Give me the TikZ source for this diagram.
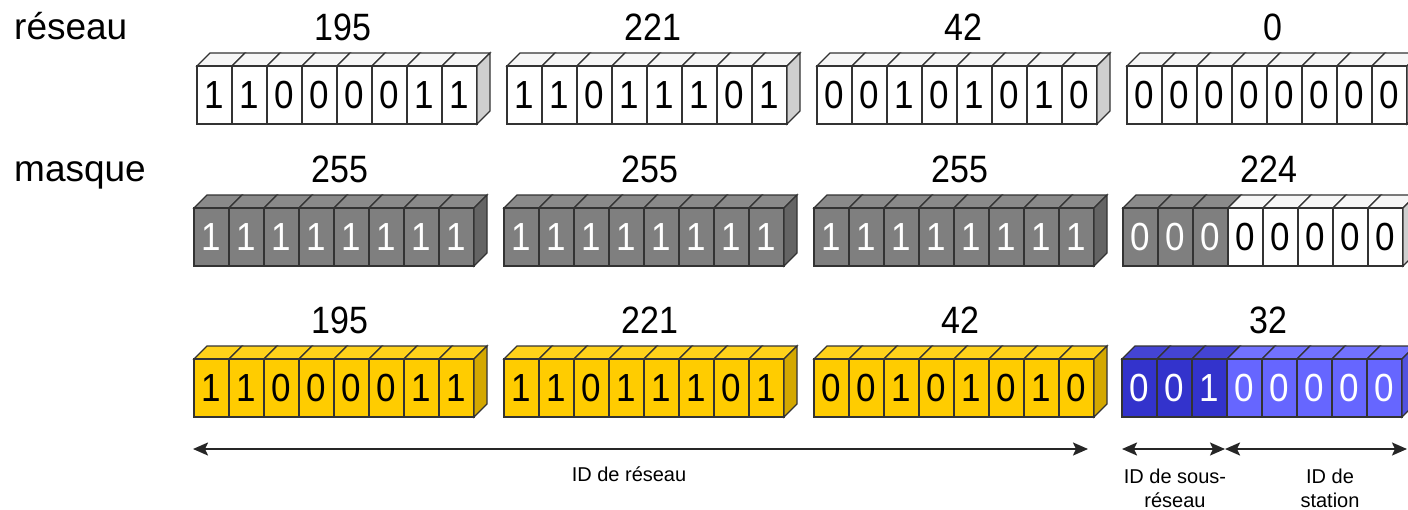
\documentclass[tikz,border=0pt]{standalone}
\usepackage{fontspec}
\setmainfont{Liberation Sans}
\usetikzlibrary{arrows.meta}

% three shades per kind of bit: front, top and side of the little box
\definecolor{front-blanc}{HTML}{FFFFFF}
\definecolor{top-blanc}{HTML}{F6F6F6}
\definecolor{side-blanc}{HTML}{CFCFCF}
\definecolor{front-gris}{HTML}{7F7F7F}
\definecolor{top-gris}{HTML}{8A8A8A}
\definecolor{side-gris}{HTML}{646464}
\definecolor{front-jaune}{HTML}{FFCC00}
\definecolor{top-jaune}{HTML}{FFD21A}
\definecolor{side-jaune}{HTML}{D4A800}
\definecolor{front-bleu}{HTML}{3333CC}
\definecolor{top-bleu}{HTML}{4444D4}
\definecolor{side-bleu}{HTML}{2828A8}
\definecolor{front-bleuclair}{HTML}{6666FF}
\definecolor{top-bleuclair}{HTML}{7272FF}
\definecolor{side-bleuclair}{HTML}{5252E0}

\tikzset{
  bit/.style={ % front face of one bit
    rectangle, draw=black!80, line width=1.3pt,
    anchor=north west, outer sep=0pt, inner sep=0pt,
    minimum width=35pt, minimum height=58pt,
    font=\fontsize{35}{35}\selectfont
  },
  face/.style={draw=black!80, line width=1.3pt}, % top and side faces
  blanc/.style={bit, fill=front-blanc, text=black},
  gris/.style={bit, fill=front-gris, text=white},
  jaune/.style={bit, fill=front-jaune, text=black},
  bleu/.style={bit, fill=front-bleu, text=white},
  bleuclair/.style={bit, fill=front-bleuclair, text=white},
  valeur/.style={font=\fontsize{34}{34}\selectfont, inner sep=0pt},
  titre/.style={font=\fontsize{37}{37}\selectfont, inner sep=0pt, anchor=base west},
  legende/.style={font=\fontsize{20}{24}\selectfont, align=center},
  fleche/.style={
    line width=2pt, black!85,
    {Stealth[length=15pt,width=13pt,inset=3pt]}-{Stealth[length=15pt,width=13pt,inset=3pt]}
  }
}

% one octet: name, x, y of the top edge, bits, kind of bits 1-3, kind of bits 4-8
\newcommand{\octet}[6]{%
  \foreach \bitv [count=\i] in {#4} {
    \ifnum\i<4 \def\genre{#5}\else\def\genre{#6}\fi
    \pgfmathsetmacro{\xc}{#2+(\i-1)*35}
    \filldraw[face, fill=top-\genre]
      (\xc,#3) -- ++(13,-13) -- ++(35,0) -- ++(-13,13) -- cycle;
    \node[\genre] (#1-\i) at (\xc,#3) {\scalebox{1}[1.12]{\bitv}};
  }
  \filldraw[face, fill=side-#6]
    (#1-8.north east) -- ++(13,-13) -- ++(0,58) -- ++(-13,13) -- cycle;
  \node[valeur, anchor=base] (#1-val) at (#2+146,#3-26)
    {\scalebox{1}[1.12]{\pgfmathprint{#1}}};
}

\begin{document}
\begin{tikzpicture}[x=1pt, y=-1pt]
  \clip (0,0) rectangle (1408,509);

  \node[titre] (t-reseau) at (14,39) {réseau};
  \node[titre] (t-masque) at (14,181) {masque};

  % adresse
  \octet{195}{197}{66}{1,1,0,0,0,0,1,1}{blanc}{blanc}
  \octet{221}{507}{66}{1,1,0,1,1,1,0,1}{blanc}{blanc}
  \octet{42}{817}{66}{0,0,1,0,1,0,1,0}{blanc}{blanc}
  \octet{0}{1127}{66}{0,0,0,0,0,0,0,0}{blanc}{blanc}

  % masque
  \octet{255}{194}{208}{1,1,1,1,1,1,1,1}{gris}{gris}
  \octet{255}{504}{208}{1,1,1,1,1,1,1,1}{gris}{gris}
  \octet{255}{814}{208}{1,1,1,1,1,1,1,1}{gris}{gris}
  \octet{224}{1123}{208}{0,0,0,0,0,0,0,0}{gris}{blanc}

  % resultat du ET
  \octet{195}{194}{359}{1,1,0,0,0,0,1,1}{jaune}{jaune}
  \octet{221}{504}{359}{1,1,0,1,1,1,0,1}{jaune}{jaune}
  \octet{42}{814}{359}{0,0,1,0,1,0,1,0}{jaune}{jaune}
  \octet{32}{1122}{359}{0,0,1,0,0,0,0,0}{bleu}{bleuclair}

  \coordinate (g) at (193,449);
  \coordinate (m1) at (1088,449);
  \coordinate (m2) at (1122,449);
  \coordinate (m3) at (1225,449);
  \coordinate (d) at (1407,449);
  \draw[fleche] (g) -- (m1);
  \draw[fleche] (m2) -- (m3);
  \draw[fleche] (m3) -- (d);

  \node[legende] (l-reseau) at (629,474) {ID de réseau};
  \node[legende] (l-sousreseau) at (1175,488) {ID de sous-\\réseau};
  \node[legende] (l-station) at (1330,488) {ID de\\station};
\end{tikzpicture}
\end{document}
